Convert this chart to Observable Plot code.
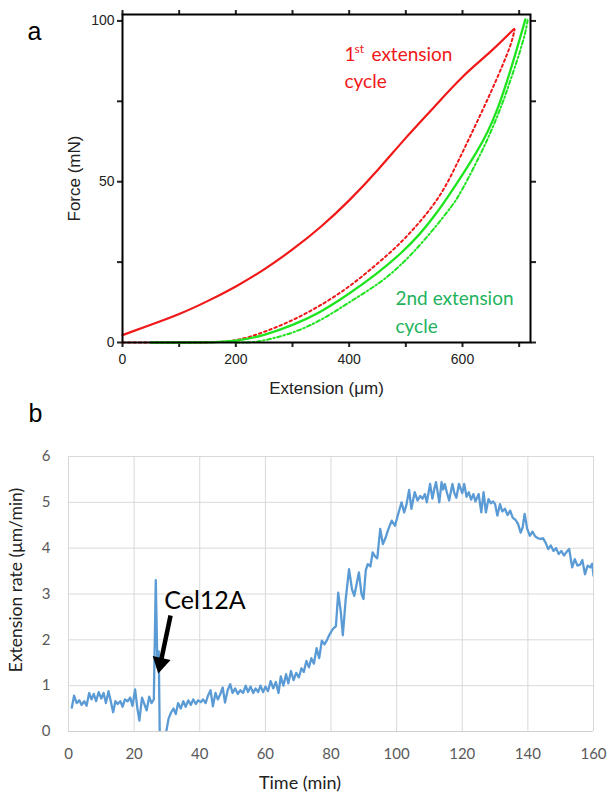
<!DOCTYPE html>
<html>
<head>
<meta charset="utf-8">
<script src="https://cdn.jsdelivr.net/npm/d3@7"></script>
<script src="https://cdn.jsdelivr.net/npm/@observablehq/plot@0.6"></script>
<style>
  html, body { margin: 0; padding: 0; background: white; }
  #wrap { width: 610px; }
  #wrap svg { display: block; }
</style>
</head>
<body>
<div id="wrap"></div>
<script>
// ---------- Panel a data ----------
const ext1X = [0, 50, 100, 150, 200, 250, 300, 350, 400, 450, 500, 550, 600, 650, 691];
const ext1F = [2.3, 5.5, 8.7, 12.8, 17.3, 22.6, 28.8, 35.8, 44, 53.4, 63.8, 73.2, 83, 90.3, 97.5];

const ret1X = [0, 50, 100, 150, 200, 250, 300, 350, 400, 450, 490, 525, 550, 570, 590, 610, 630, 650, 665, 678, 687, 692];
const ret1F = [0, 0, 0, 0, 0.3, 3.2, 6.8, 11.5, 17.2, 24.5, 30.7, 37.5, 43, 48.4, 55.5, 62.8, 70.2, 77.8, 83.8, 89.3, 93.5, 97.3];

const ext2X = [50, 100, 150, 200, 250, 300, 350, 400, 450, 490, 525, 555, 573, 601, 625, 644, 661, 679, 690, 701, 711];
const ext2F = [0, 0, 0, 0.3, 2.2, 5.3, 9.4, 15.1, 21.5, 27.4, 33.6, 40.4, 45, 52.4, 59.2, 65.2, 72, 81.4, 87.8, 94.3, 100.5];

const ret2X = [200, 230, 250, 300, 350, 400, 455, 490, 531, 579, 591, 608, 632, 650, 670, 682, 697, 705, 711, 715];
const ret2F = [0, 0, 0.6, 2.8, 6.8, 12.5, 18.5, 23.8, 31.3, 41.8, 44.9, 50.3, 58.6, 65.4, 74, 80.2, 88, 92.6, 96.3, 100.2];

const xTicksA = [0, 100, 200, 300, 400, 500, 600, 700];
const xLabelsA = [0, 200, 400, 600];
const yTicksA = [0, 25, 50, 75, 100];
const yLabelsA = [0, 50, 100];

// ---------- Panel b data ----------
const timesB = [1,1.7,2.5,3.3,4,4.8,5.5,6.3,7,7.7,8.4,9.2,10,10.7,11.4,12.2,13,13.6,14.3,15,15.8,16.5,17.2,18,18.8,19.5,20.3,21,21.6,22.4,23.2,23.8,24.6,25.3,26,26.6,27.1,27.5,27.9,29.2,29.8,30.5,31.3,32,32.7,33.4,34.2,35,35.7,36.5,37.3,38,38.8,39.5,40.3,41,41.8,42.5,43.3,44,44.8,45.5,46.3,47,47.7,48.5,49.3,50,50.8,51.6,52.4,53.2,54,54.7,55.5,56.3,57,57.8,58.5,59.3,60,60.8,61.6,62.4,63.2,64,64.7,65.5,66.3,67,67.8,68.6,69.4,70.2,71,71.7,72.5,73.3,74,74.8,75.6,76.4,77.2,78,78.8,79.6,80.5,81.5,82.2,83,83.6,84.5,85.5,86.4,87.1,88.5,89.3,89.9,90.6,91.2,92,92.7,93.4,94.1,95,95.8,96.6,97.4,98.5,99.5,100.5,101.5,102.3,103,103.8,104.5,105.5,106.4,107.2,107.9,108.6,109.2,110.2,110.9,111.5,112,113,113.7,114.2,114.7,115.3,116,117,117.6,118.2,119,120,120.6,121.3,122,122.7,123.4,124,125,125.8,126.5,127.2,128,128.7,129.4,130,130.7,131.5,132.2,133,133.8,134.6,135.4,136.2,137,137.8,138.4,139,139.8,140.6,141.4,142.2,143,143.8,144.6,145.4,146.2,147,147.8,148.6,149.4,150.2,151,151.8,152.6,153.5,154.3,155.1,155.9,156.6,157.4,158.2,159,159.6,160];
const ratesB = [0.52,0.78,0.62,0.68,0.58,0.66,0.56,0.84,0.7,0.82,0.66,0.86,0.72,0.84,0.62,0.88,0.62,0.42,0.66,0.6,0.66,0.54,0.7,0.66,0.74,0.56,0.92,0.5,0.24,0.74,0.58,0.46,0.76,0.62,0.7,3.3,1.4,1.75,-0.6,-0.5,0,0.28,0.42,0.5,0.38,0.62,0.5,0.66,0.54,0.68,0.58,0.7,0.6,0.68,0.64,0.7,0.62,0.78,0.9,0.55,0.84,0.7,0.82,0.96,0.63,0.9,1.03,0.84,0.94,0.82,0.9,0.84,1,0.86,0.98,0.84,0.94,0.86,1,0.86,0.98,0.88,1.1,0.94,1.08,0.84,1.2,1,1.25,1.05,1.32,1.12,1.28,1.18,1.38,1.3,1.54,1.4,1.6,1.48,1.82,1.6,1.98,1.9,2,2.12,2.23,2.3,3.03,2.6,2.1,2.9,3.54,3.1,2.96,3.47,3,2.89,3.52,3.65,3.6,3.91,3.82,3.78,4.42,4.09,4.22,4.4,4.6,4.49,4.75,5,4.78,4.95,5.27,4.86,5.22,5.04,5.14,5.08,5.18,5,5.4,5.08,5.3,5.44,5,5.44,5.28,5.4,5.22,5.04,5.4,5.2,5.1,5.4,5.2,5.4,5.12,5.22,5.06,5.18,5.02,5.18,4.78,5.22,4.78,5.07,4.98,5.02,4.96,4.71,4.96,4.8,4.86,4.72,4.82,4.66,4.62,4.53,4.34,4.45,4.75,4.42,4.27,4.36,4.26,4.22,4.2,4.22,4.12,3.98,4.06,3.94,4,3.87,3.94,3.84,3.92,3.98,3.58,3.76,3.62,3.64,3.74,3.43,3.62,3.58,3.66,3.4];

const xTicksB = [0, 20, 40, 60, 80, 100, 120, 140, 160];
const yTicksB = [0, 1, 2, 3, 4, 5, 6];

// annotation anchor points (data units) for the arrow
const arrowFrom = [31.1, 2.53];
const arrowTo = [28.05, 1.49];
const arrowTip = [27.4, 1.28];

const toRows = (xs, ys) => xs.map((x, i) => ({x, y: ys[i]}));

const red = "#f01818";
const green = "#1ee41e";
const greenText = "#22b35c";
const mid = {textAnchor: "middle", lineAnchor: "middle"};
const lab = {textAnchor: "start", lineAnchor: "middle", fontFamily: "Lato", fontSize: 19};

const panelA = Plot.plot({
  width: 610, height: 400,
  marginLeft: 122, marginRight: 80, marginTop: 14, marginBottom: 58,
  x: {domain: [0, 720]},
  y: {domain: [0, 102]},
  style: {fontFamily: "'Liberation Sans', Arial, sans-serif", fontSize: "14px", color: "#222", background: "white", overflow: "visible"},
  marks: [
    Plot.axisX({ticks: xTicksA, tickSize: 5, strokeWidth: 2, tickPadding: 7, tickFormat: d => xLabelsA.includes(d) ? String(d) : "", label: null, fontSize: 14}),
    Plot.axisX({anchor: "top", ticks: xTicksA, tickSize: 5, strokeWidth: 2, tickFormat: () => "", label: null}),
    Plot.axisY({ticks: yTicksA, tickSize: 5, strokeWidth: 2, tickPadding: 3, tickFormat: d => yLabelsA.includes(d) ? String(d) : "", label: null, fontSize: 14}),
    Plot.axisY({anchor: "right", ticks: yTicksA, tickSize: 5, strokeWidth: 2, tickFormat: () => "", label: null}),
    Plot.line(toRows(ret2X, ret2F), {x: "x", y: "y", stroke: green, strokeWidth: 2, strokeDasharray: "4 2.5 1.5 2.5", curve: "basis"}),
    Plot.line(toRows(ret1X, ret1F), {x: "x", y: "y", stroke: red, strokeWidth: 2, strokeDasharray: "2.5 3", curve: "basis"}),
    Plot.line(toRows(ext2X, ext2F), {x: "x", y: "y", stroke: green, strokeWidth: 2.3, curve: "basis"}),
    Plot.line(toRows(ext1X, ext1F), {x: "x", y: "y", stroke: red, strokeWidth: 2.2, curve: "basis"}),
    Plot.frame({stroke: "black", strokeWidth: 2}),
    Plot.text(["Force (mN)"], {frameAnchor: "left", dx: -48, rotate: -90, fontSize: 17, fill: "#222", ...mid}),
    Plot.text(["Extension (\u03bcm)"], {frameAnchor: "bottom", dy: 46, fontSize: 17, fill: "#222", ...mid}),
    Plot.text(["a"], {frameAnchor: "top-left", dx: -88, dy: 17, fontSize: 25, fill: "black", ...mid}),
    Plot.text(["1"], {frameAnchor: "top-left", dx: 222, dy: 40, fill: red, ...lab}),
    Plot.text(["st"], {frameAnchor: "top-left", dx: 232, dy: 35, fill: red, ...lab, fontSize: 12}),
    Plot.text(["extension"], {frameAnchor: "top-left", dx: 249, dy: 40, fill: red, ...lab}),
    Plot.text(["cycle"], {frameAnchor: "top-left", dx: 222, dy: 67, fill: red, ...lab}),
    Plot.text(["2nd extension"], {frameAnchor: "top-left", dx: 273, dy: 284, fill: greenText, ...lab}),
    Plot.text(["cycle"], {frameAnchor: "top-left", dx: 273, dy: 312, fill: greenText, ...lab})
  ]
});

const gray = "#595959";
const panelB = Plot.plot({
  width: 610, height: 398,
  marginLeft: 68, marginRight: 17, marginTop: 56, marginBottom: 67,
  x: {domain: [0, 160]},
  y: {domain: [0, 6]},
  style: {fontFamily: "Lato, 'Open Sans', sans-serif", fontSize: "15px", color: gray, background: "white", overflow: "visible"},
  marks: [
    Plot.gridX(xTicksB, {stroke: "#d9d9d9", strokeOpacity: 1, strokeWidth: 1}),
    Plot.gridY(yTicksB, {stroke: "#d9d9d9", strokeOpacity: 1, strokeWidth: 1}),
    Plot.ruleY([0], {stroke: "#d0d0d0", strokeWidth: 1}),
    Plot.axisX({ticks: xTicksB, tickSize: 0, tickPadding: 17, tickFormat: d => String(d), label: null, fontSize: 15, fill: gray}),
    Plot.axisY({ticks: yTicksB, tickSize: 0, tickPadding: 18, tickFormat: d => String(d), label: null, fontSize: 15, fill: gray}),
    Plot.line(toRows(timesB, ratesB), {x: "x", y: "y", stroke: "#5b9bd5", strokeWidth: 2.3, clip: true}),
    Plot.link([{x1: arrowFrom[0], y1: arrowFrom[1], x2: arrowTo[0], y2: arrowTo[1]}], {x1: "x1", y1: "y1", x2: "x2", y2: "y2", stroke: "black", strokeWidth: 4.5}),
    Plot.dot([{x: arrowTip[0], y: arrowTip[1]}], {x: "x", y: "y", symbol: "triangle", r: 6.8, fill: "black", rotate: 192.3, dx: 2.1, dy: -9.6}),
    Plot.text(["Cel12A"], {x: () => 29.2, y: () => 2.84, textAnchor: "start", lineAnchor: "middle", fontSize: 25, fill: "black"}),
    Plot.text(["Time (min)"], {frameAnchor: "bottom", dx: -31, dy: 52, fontSize: 18, fill: "#222", ...mid}),
    Plot.text(["Extension rate (\u03bcm/min)"], {frameAnchor: "left", dx: -52, dy: -14, rotate: -90, fontSize: 17.5, fill: "#222", ...mid}),
    Plot.text(["b"], {frameAnchor: "top-left", dx: -33, dy: -43, fontSize: 25, fontFamily: "'Liberation Sans', Arial, sans-serif", fill: "black", ...mid})
  ]
});

const wrap = document.getElementById("wrap");
wrap.appendChild(panelA);
wrap.appendChild(panelB);
</script>
</body>
</html>
